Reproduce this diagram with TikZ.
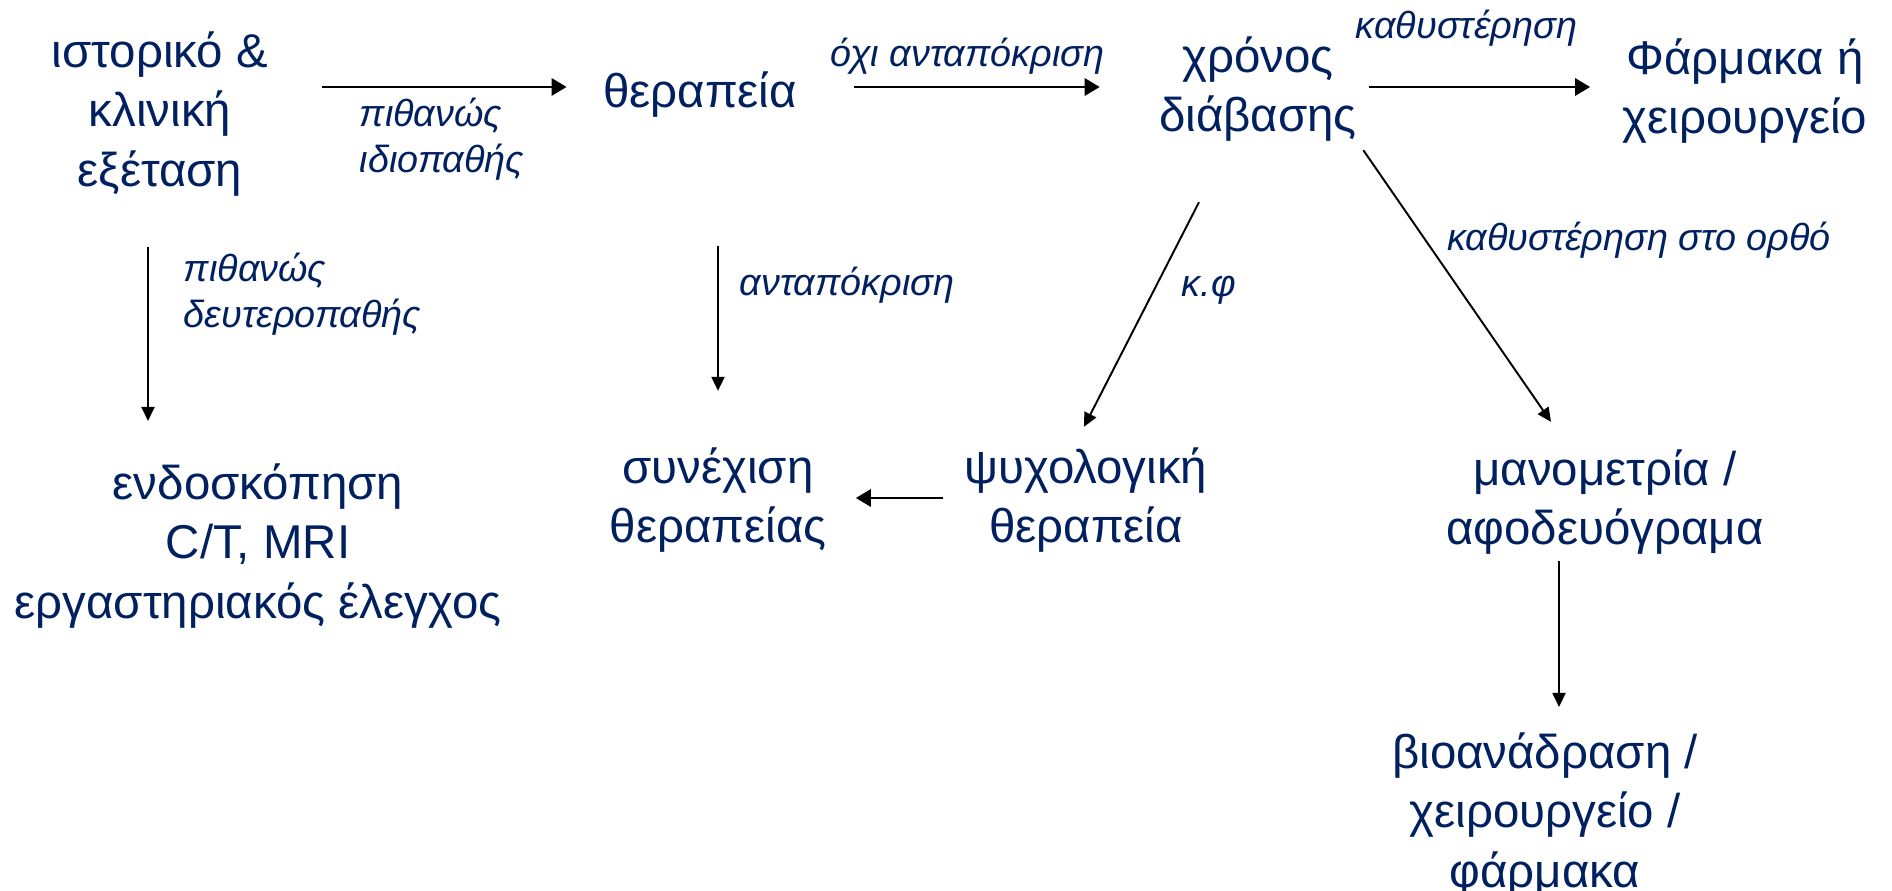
\documentclass[tikz,border=0pt]{standalone}
\usepackage{xcolor}
\usepackage{fontspec}
\setmainfont{Liberation Sans}
\usepackage{tikz}
\usetikzlibrary{arrows.meta,calc,positioning}
\definecolor{navy}{RGB}{0,32,96}

\begin{document}
\begin{tikzpicture}[x=0.02cm,y=-0.02cm,->,>={Triangle[length=0.3cm,width=0.34cm]},line width=1.7pt]
	\tikzstyle{every node}=[text=navy,align=center,inner sep=0pt,font=\fontsize{27}{34}\selectfont]
	\tikzstyle{lab}=[font=\fontsize{21.5}{26}\selectfont\itshape,align=left]
	\tikzstyle{slim}=[line width=1.1pt,>={Triangle[length=0.28cm,width=0.26cm]}]
	\useasboundingbox (0,0) rectangle (1892,891);
	
	\node (hist) at (160,114) {ιστορικό \&\\κλινική\\εξέταση};
	\node (ther) at (700,95) {θεραπεία};
	\node (time) at (1258,89) {χρόνος\\διάβασης};
	\node (drug) at (1745,91) {Φάρμακα ή\\χειρουργείο};
	\node (endo) at (258,546) {ενδοσκόπηση\\C/T, MRI\\εργαστηριακός έλεγχος};
	\node (cont) at (718,500) {συνέχιση\\θεραπείας};
	\node (psy) at (1086,500) {ψυχολογική\\θεραπεία};
	\node (mano) at (1605,502) {μανομετρία /\\αφοδευόγραμα};
	\node (bio) at (1545,815) {βιοανάδραση /\\χειρουργείο /\\φάρμακα};
	
	\path ($(hist.east |- ther.west)+(52,-8)$) edge node[lab,pos=.15,anchor=north west,yshift=-0.2cm] {πιθανώς\\ιδιοπαθής} ($(ther.west)+(-35,-8)$)
	($(ther.east)+(56,-8)$) edge node[lab,pos=.46,anchor=base,yshift=0.4cm] {όχι ανταπόκριση} ($(time.west |- ther.east)+(-58,-8)$)
	($(time.east)+(11,-2)$) edge node[lab,pos=.44,anchor=base,yshift=0.97cm] {καθυστέρηση} ($(drug.west |- time.east)+(-31,-2)$)
	($(psy.west)+(-20,-2)$) edge ($(cont.east)+(28,-2)$);
	
	\path[slim] ($(hist.south)+(-12,49)$) edge node[lab,pos=0,anchor=north west,xshift=0.7cm,yshift=-0.1cm] {πιθανώς\\δευτεροπαθής} ($(hist.south |- endo.north)+(-12,-41)$)
	($(ther.south)+(18,127)$) edge node[lab,pos=.34,anchor=base west,xshift=0.42cm] {ανταπόκριση} ($(ther.south |- cont.north)+(18,-55)$)
	($(time.south)+(-59,59)$) edge node[lab,pos=.42,anchor=base west,xshift=0.6cm] {κ.φ} ($(psy.north)+(-2,-19)$)
	($(time.south east)+(5,7)$) edge node[lab,pos=.37,anchor=base west,xshift=0.27cm] {καθυστέρηση στο ορθό} ($(mano.north)+(-54,-26)$)
	($(mano.south)+(-46,5)$) edge ($(mano.south |- bio.north)+(-46,-24)$);
\end{tikzpicture}
\end{document}
